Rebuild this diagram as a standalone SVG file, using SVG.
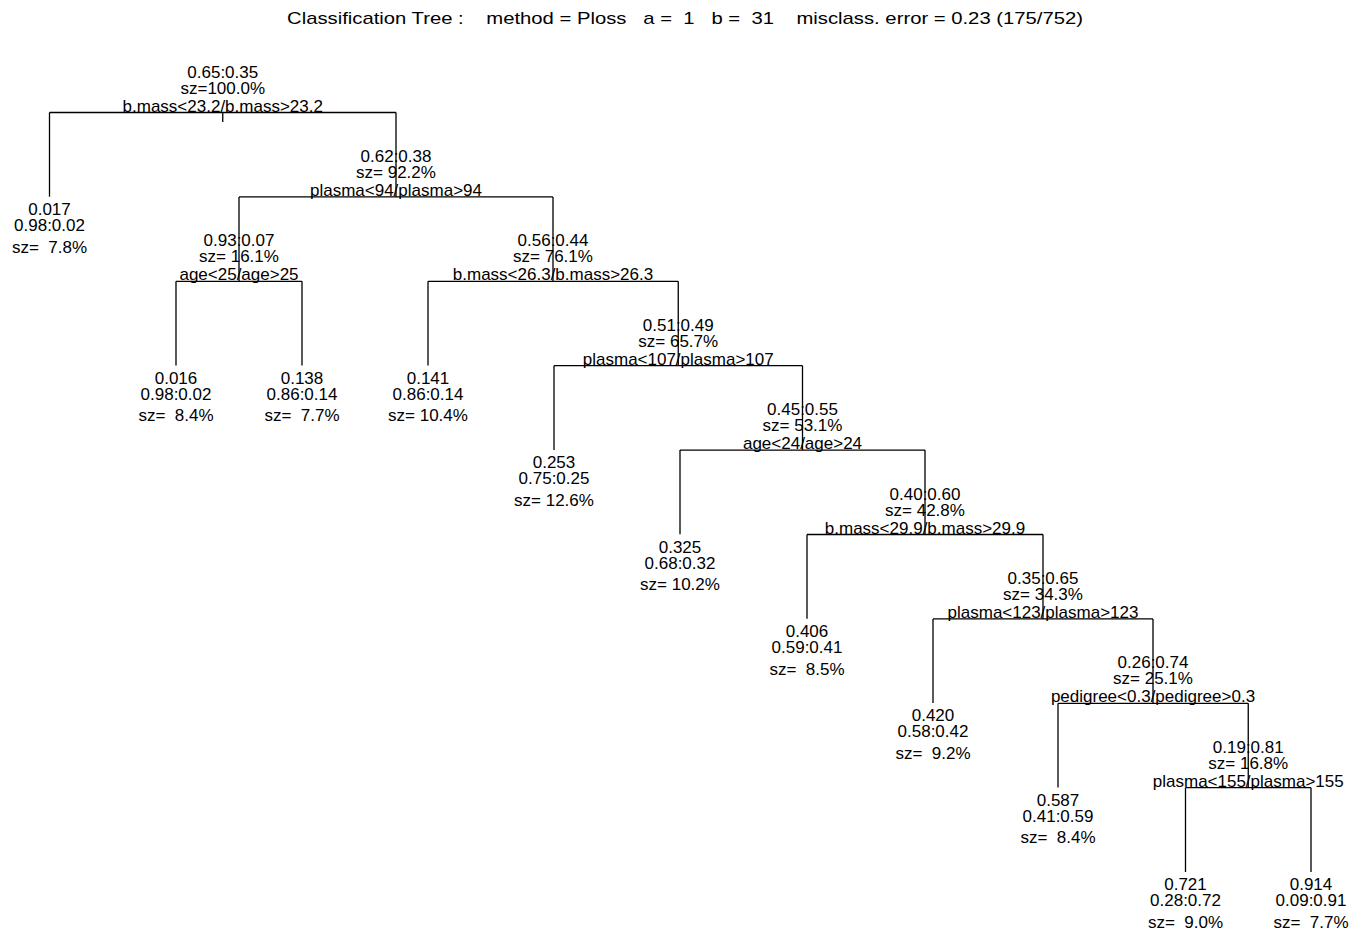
<svg xmlns="http://www.w3.org/2000/svg" width="1355" height="932" viewBox="0 0 1355 932" xml:space="preserve">
<style>
text{font-family:"Liberation Sans",Arial,sans-serif;font-size:17px;fill:#000;text-anchor:middle;white-space:pre}
.title{font-size:17px;text-anchor:start}
.e{stroke:#000;stroke-width:1.3;fill:none}
</style>
<rect width="1355" height="932" fill="#fff"/>
<text class="title" x="287" y="24" textLength="796" lengthAdjust="spacingAndGlyphs">Classification Tree :    method = Ploss   a =  1   b =  31    misclass. error = 0.23 (175/752)</text>
<g id="connectors" class="e">
<path d="M222.75,112.5V122 M49.5,112.5H396"/>
<path d="M49.5,112.5V196.7"/>
<path d="M396,112.5V196.9 M239,196.9H553"/>
<path d="M239,196.9V281.3 M176,281.3H302"/>
<path d="M176,281.3V365.5 M302,281.3V365.5"/>
<path d="M553,196.9V281.3 M428,281.3H678.25"/>
<path d="M428,281.3V365.5"/>
<path d="M678.25,281.3V365.7 M554,365.7H802.5"/>
<path d="M554,365.7V449.9"/>
<path d="M802.5,365.7V450.1 M680,450.1H925"/>
<path d="M680,450.1V534.3"/>
<path d="M925,450.1V534.5 M807,534.5H1043"/>
<path d="M807,534.5V618.7"/>
<path d="M1043,534.5V618.9 M933,618.9H1153"/>
<path d="M933,618.9V703.1"/>
<path d="M1153,618.9V703.3 M1058,703.3H1248.25"/>
<path d="M1058,703.3V787.5"/>
<path d="M1248.25,703.3V787.7 M1185.5,787.7H1311"/>
<path d="M1185.5,787.7V871.9 M1311,787.7V871.9"/>
</g>
<g id="n1"><text x="222.75" y="78">0.65:0.35</text><text x="222.75" y="94">sz=100.0%</text><text x="222.75" y="111.5">b.mass&lt;23.2/b.mass&gt;23.2</text></g>
<g id="n2"><text x="49.5" y="215">0.017</text><text x="49.5" y="231">0.98:0.02</text><text x="49.5" y="252.5">sz=  7.8%</text></g>
<g id="n3"><text x="396" y="162">0.62:0.38</text><text x="396" y="178">sz= 92.2%</text><text x="396" y="195.9">plasma&lt;94/plasma&gt;94</text></g>
<g id="n6"><text x="239" y="246.3">0.93:0.07</text><text x="239" y="262.3">sz= 16.1%</text><text x="239" y="280.3">age&lt;25/age&gt;25</text></g>
<g id="n12"><text x="176" y="383.8">0.016</text><text x="176" y="399.8">0.98:0.02</text><text x="176" y="421.3">sz=  8.4%</text></g>
<g id="n13"><text x="302" y="383.8">0.138</text><text x="302" y="399.8">0.86:0.14</text><text x="302" y="421.3">sz=  7.7%</text></g>
<g id="n7"><text x="553" y="246.3">0.56:0.44</text><text x="553" y="262.3">sz= 76.1%</text><text x="553" y="280.3">b.mass&lt;26.3/b.mass&gt;26.3</text></g>
<g id="n14"><text x="428" y="383.8">0.141</text><text x="428" y="399.8">0.86:0.14</text><text x="428" y="421.3">sz= 10.4%</text></g>
<g id="n15"><text x="678.25" y="330.7">0.51:0.49</text><text x="678.25" y="346.7">sz= 65.7%</text><text x="678.25" y="364.7">plasma&lt;107/plasma&gt;107</text></g>
<g id="n30"><text x="554" y="468.2">0.253</text><text x="554" y="484.2">0.75:0.25</text><text x="554" y="505.7">sz= 12.6%</text></g>
<g id="n31"><text x="802.5" y="415.1">0.45:0.55</text><text x="802.5" y="431.1">sz= 53.1%</text><text x="802.5" y="449.1">age&lt;24/age&gt;24</text></g>
<g id="n62"><text x="680" y="552.6">0.325</text><text x="680" y="568.6">0.68:0.32</text><text x="680" y="590.1">sz= 10.2%</text></g>
<g id="n63"><text x="925" y="499.5">0.40:0.60</text><text x="925" y="515.5">sz= 42.8%</text><text x="925" y="533.5">b.mass&lt;29.9/b.mass&gt;29.9</text></g>
<g id="n126"><text x="807" y="637">0.406</text><text x="807" y="653">0.59:0.41</text><text x="807" y="674.5">sz=  8.5%</text></g>
<g id="n127"><text x="1043" y="583.9">0.35:0.65</text><text x="1043" y="599.9">sz= 34.3%</text><text x="1043" y="617.9">plasma&lt;123/plasma&gt;123</text></g>
<g id="n254"><text x="933" y="721.4">0.420</text><text x="933" y="737.4">0.58:0.42</text><text x="933" y="758.9">sz=  9.2%</text></g>
<g id="n255"><text x="1153" y="668.3">0.26:0.74</text><text x="1153" y="684.3">sz= 25.1%</text><text x="1153" y="702.3">pedigree&lt;0.3/pedigree&gt;0.3</text></g>
<g id="n510"><text x="1058" y="805.8">0.587</text><text x="1058" y="821.8">0.41:0.59</text><text x="1058" y="843.3">sz=  8.4%</text></g>
<g id="n511"><text x="1248.25" y="752.7">0.19:0.81</text><text x="1248.25" y="768.7">sz= 16.8%</text><text x="1248.25" y="786.7">plasma&lt;155/plasma&gt;155</text></g>
<g id="n1022"><text x="1185.5" y="890.2">0.721</text><text x="1185.5" y="906.2">0.28:0.72</text><text x="1185.5" y="927.7">sz=  9.0%</text></g>
<g id="n1023"><text x="1311" y="890.2">0.914</text><text x="1311" y="906.2">0.09:0.91</text><text x="1311" y="927.7">sz=  7.7%</text></g>
</svg>
